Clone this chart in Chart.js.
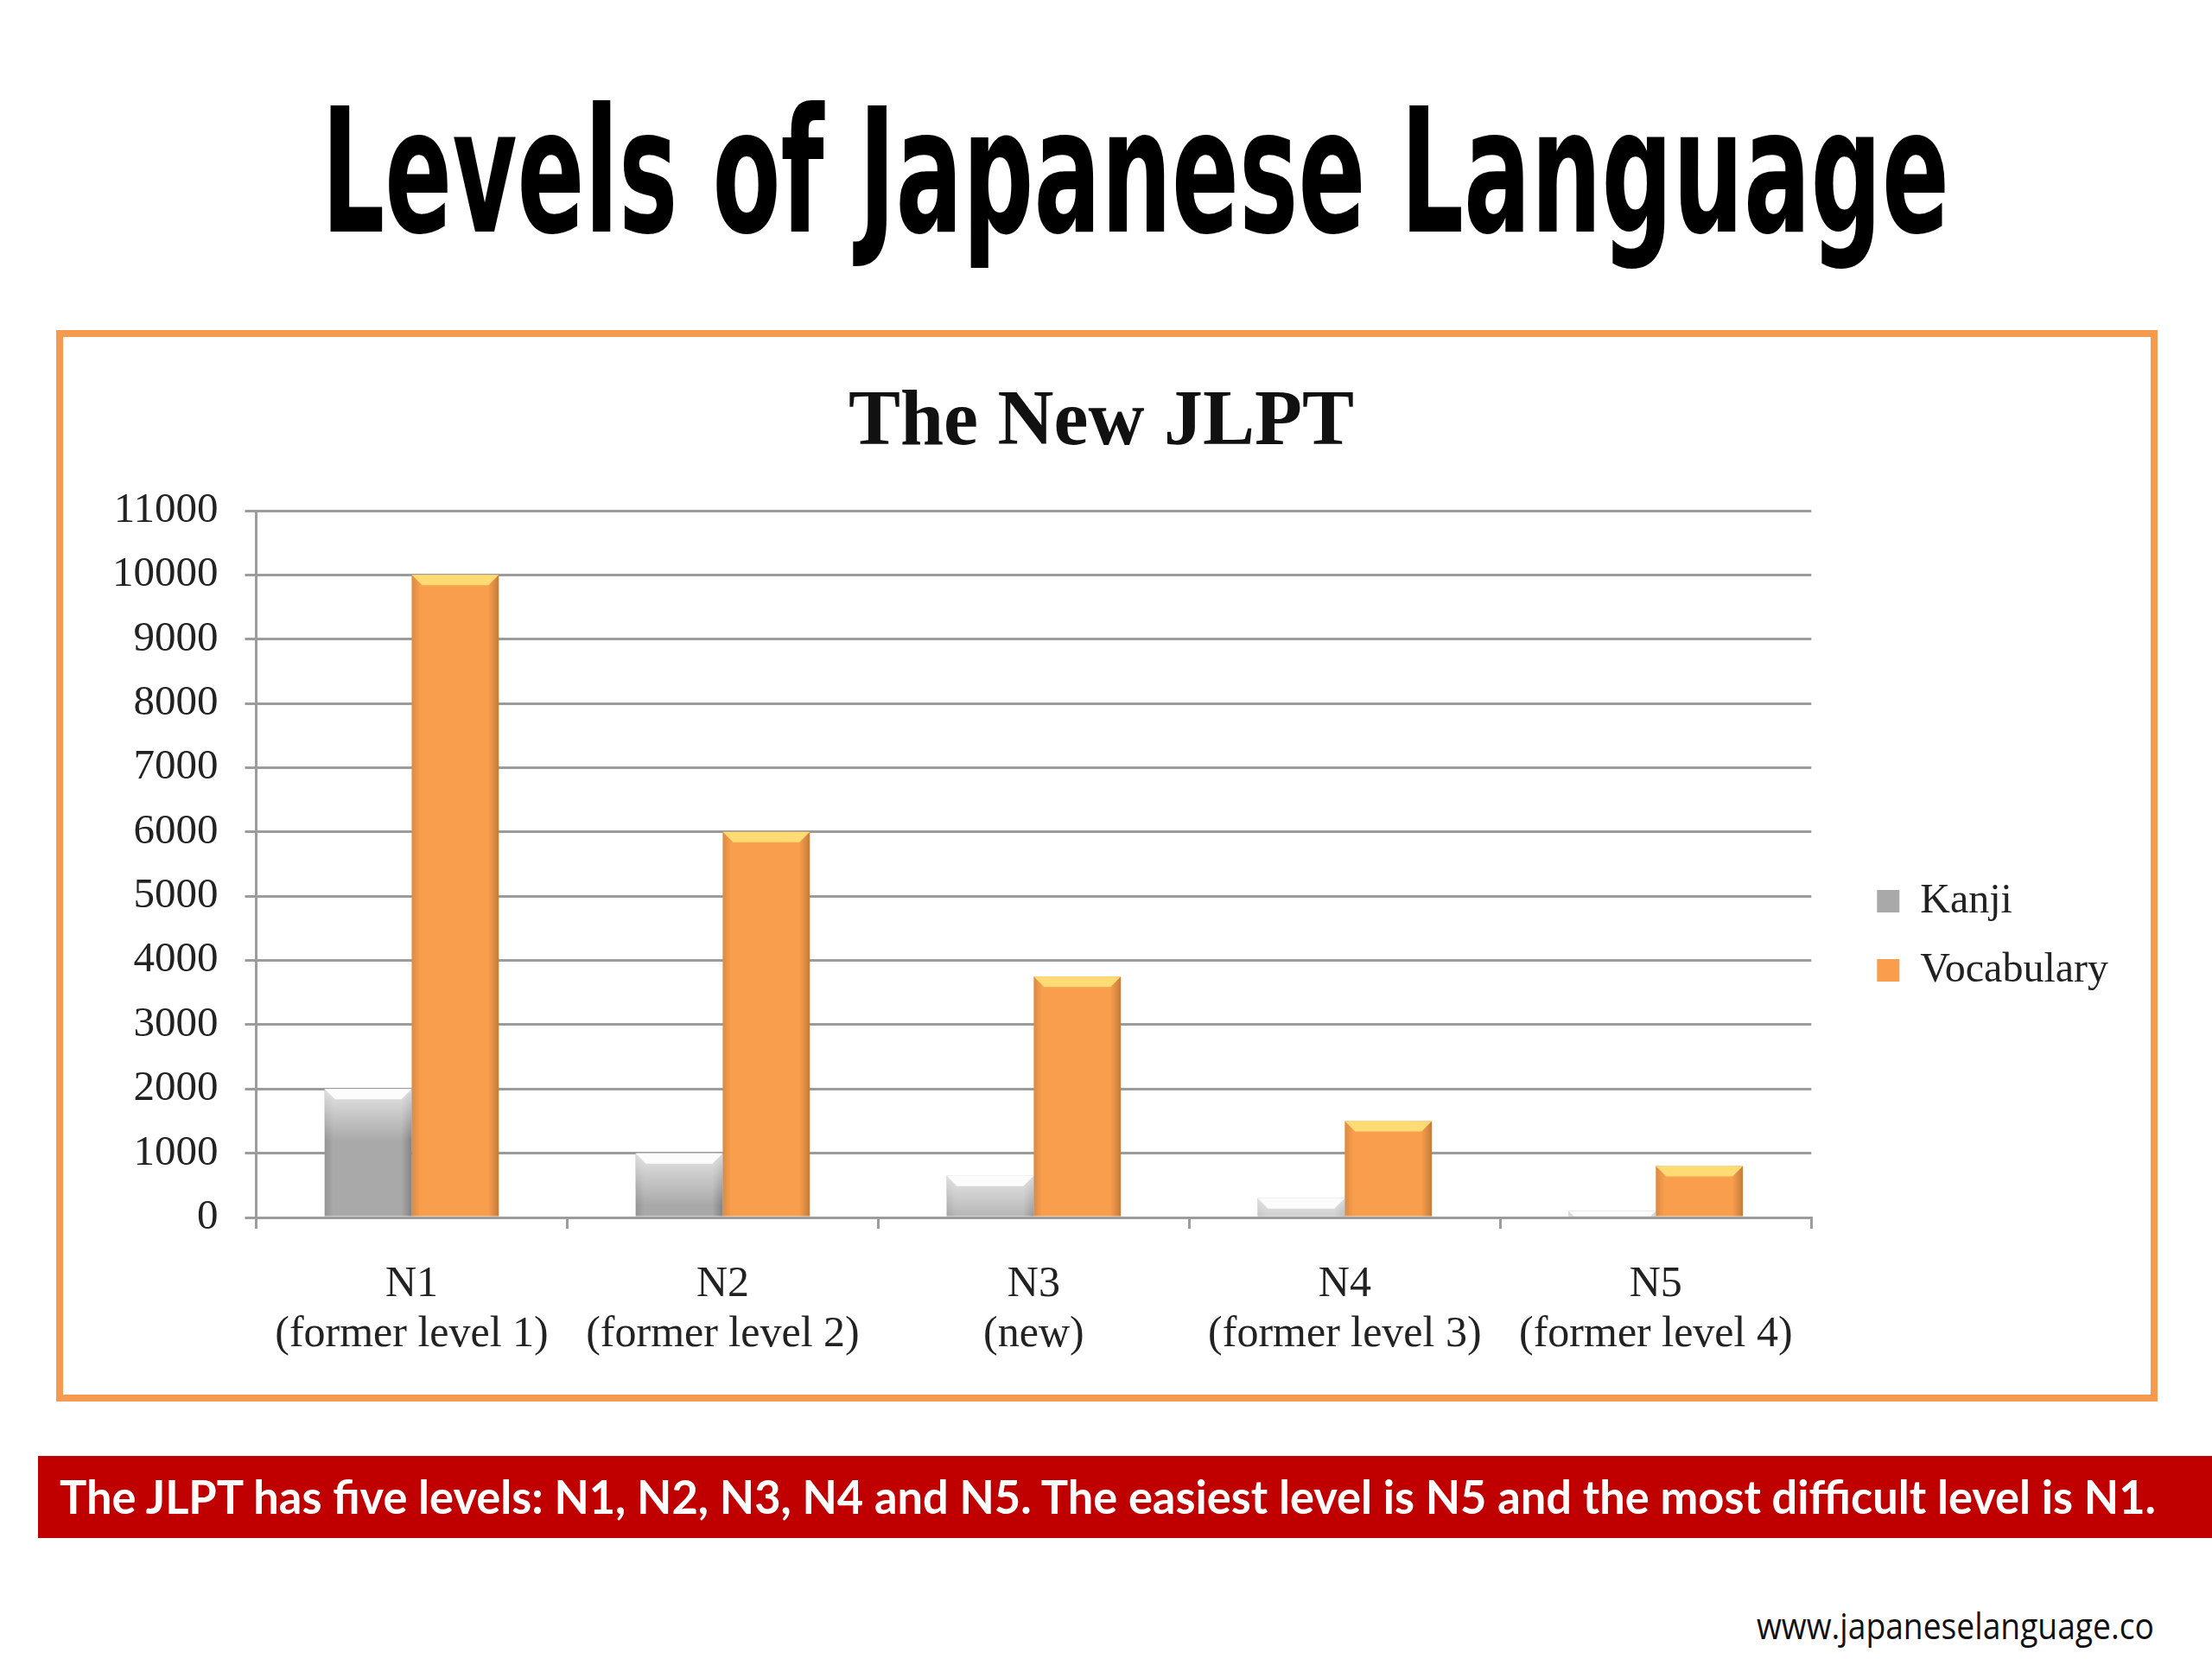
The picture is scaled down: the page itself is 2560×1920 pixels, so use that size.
<!DOCTYPE html>
<html>
<head>
<meta charset="utf-8">
<script src="https://cdn.jsdelivr.net/npm/chart.js@4.4.1/dist/chart.umd.min.js"></script>
<style>
  html, body { margin: 0; padding: 0; background: #fff; }
  body { width: 2560px; height: 1920px; position: relative; overflow: hidden; }
  .fit { position: absolute; white-space: nowrap; transform-origin: 0 0; line-height: 1; }
  #slideTitle { font-family: "DejaVu Sans"; font-weight: bold; font-size: 200px; color: #000; }
  #frame { position: absolute; left: 65px; top: 382px; width: 2432px; height: 1240px;
           box-sizing: border-box; border: 8px solid #F59A4F; }
  #wrap { position: absolute; left: 73px; top: 390px; width: 2416px; height: 1224px; }
  #banner { position: absolute; left: 44px; top: 1685px; width: 2516px; height: 95px; background: #C00000; }
  #bannerText { font-family: Lato; font-weight: bold; font-size: 54px; color: #fff; }
  #url { font-family: "Open Sans"; font-size: 42px; color: #111; }
</style>
</head>
<body>
<div id="slideTitle" class="fit">Levels of Japanese Language</div>
<div id="frame"></div>
<div id="wrap"><canvas id="jlpt" width="2416" height="1224"></canvas></div>
<div id="banner"></div>
<div id="bannerText" class="fit">The JLPT has five levels: N1, N2, N3, N4 and N5. The easiest level is N5 and the most difficult level is N1.</div>
<div id="url" class="fit">www.japaneselanguage.co</div>

<script>
// data
const levels = [
  ['N1', '(former level 1)'],
  ['N2', '(former level 2)'],
  ['N3', '(new)'],
  ['N4', '(former level 3)'],
  ['N5', '(former level 4)']
];
const kanji = [2000, 1000, 650, 300, 100];
const vocabulary = [10000, 6000, 3750, 1500, 800];
const yMin = 0, yMax = 11000, yStep = 1000;

// put a text line so its baseline sits at `baseline` and it spans `width` px
function place(id, left, baseline, width) {
  const el = document.getElementById(id);
  const mark = document.createElement('span');
  mark.style.cssText = 'display:inline-block;width:0;height:0;vertical-align:baseline';
  el.appendChild(mark);
  const base = mark.offsetTop;
  const w = el.getBoundingClientRect().width;
  el.style.left = left + 'px';
  el.style.top = (baseline - base) + 'px';
  el.style.transform = 'scaleX(' + (width / w) + ')';
}

// fake the office-style 3d shading on top of each bar
const bevel = {
  id: 'bevel',
  afterDatasetsDraw(chart) {
    const ctx = chart.ctx;
    chart.data.datasets.forEach((ds, i) => {
      chart.getDatasetMeta(i).data.forEach(bar => {
        const p = bar.getProps(['x', 'y', 'width', 'base'], true);
        const l = p.x - p.width / 2, r = p.x + p.width / 2, h = p.base - p.y;
        ctx.save();
        const g = ctx.createLinearGradient(l, 0, r, 0);
        g.addColorStop(0, 'rgba(0,0,0,0.12)');
        g.addColorStop(0.1, 'rgba(0,0,0,0)');
        g.addColorStop(0.88, 'rgba(0,0,0,0)');
        g.addColorStop(1, 'rgba(0,0,0,0.22)');
        ctx.fillStyle = g;
        ctx.fillRect(l, p.y, p.width, h);
        if (ds.glow) {
          const v = ctx.createLinearGradient(0, p.y, 0, p.y + 60);
          v.addColorStop(0, 'rgba(255,255,255,0.7)');
          v.addColorStop(1, 'rgba(255,255,255,0)');
          ctx.fillStyle = v;
          ctx.fillRect(l, p.y, p.width, Math.min(60, h));
        }
        const t = Math.min(12, h);
        ctx.fillStyle = ds.bevelColor;
        ctx.beginPath();
        ctx.moveTo(l, p.y); ctx.lineTo(r, p.y);
        ctx.lineTo(r - t, p.y + t); ctx.lineTo(l + t, p.y + t);
        ctx.closePath();
        ctx.fill();
        ctx.restore();
      });
    });
  }
};

const serif = 'Liberation Serif';
const lineCol = '#9c9c9c';

new Chart(document.getElementById('jlpt'), {
  type: 'bar',
  data: {
    labels: levels,
    datasets: [
      { label: 'Kanji', data: kanji, backgroundColor: '#A9A9A9', borderWidth: 0,
        bevelColor: 'rgba(255,255,255,0.9)', glow: true,
        barPercentage: 1, categoryPercentage: 0.56 },
      { label: 'Vocabulary', data: vocabulary, backgroundColor: '#F99E4C', borderWidth: 0,
        bevelColor: 'rgba(255,226,120,0.9)', glow: false,
        barPercentage: 1, categoryPercentage: 0.56 }
    ]
  },
  options: {
    responsive: false,
    animation: false,
    layout: { padding: { left: 26, right: 39, top: 0, bottom: 4 } },
    plugins: {
      title: { display: true, text: 'The New JLPT', color: '#111',
               font: { family: serif, size: 90, weight: 'bold' },
               padding: { top: 47, bottom: 46 } },
      legend: { position: 'right', align: 'center',
                // blank title only pushes the entries down a bit
                title: { display: true, text: ' ', font: { size: 10 }, padding: { top: 0, bottom: 154 } },
                labels: { boxWidth: 26, boxHeight: 26, padding: 32, color: '#222',
                          font: { family: serif, size: 48 } } },
      tooltip: { enabled: false }
    },
    scales: {
      x: {
        grid: { drawOnChartArea: false, drawTicks: true, tickLength: 13, color: lineCol, lineWidth: 3, offset: true },
        border: { color: lineCol, width: 3 },
        ticks: { padding: 36, color: '#222', maxRotation: 0, autoSkip: false,
                 font: { family: serif, size: 50, lineHeight: 1.16 } }
      },
      y: {
        min: yMin, max: yMax,
        grid: { color: lineCol, lineWidth: 3, tickLength: 13 },
        border: { color: lineCol, width: 3 },
        ticks: { stepSize: yStep, padding: 31, color: '#222',
                 callback: v => String(v),
                 font: { family: serif, size: 49 } }
      },
      // empty spacer between the plot and the legend
      gap: {
        type: 'linear', position: 'right', display: true,
        grid: { display: false, drawTicks: false }, border: { display: false },
        ticks: { display: false },
        afterFit: s => { s.width = 44; }
      }
    }
  },
  plugins: [bevel]
});

place('slideTitle', 372, 268, 1884);
place('bannerText', 69, 1752, 2426);
place('url', 2033, 1897, 460);
</script>
</body>
</html>
